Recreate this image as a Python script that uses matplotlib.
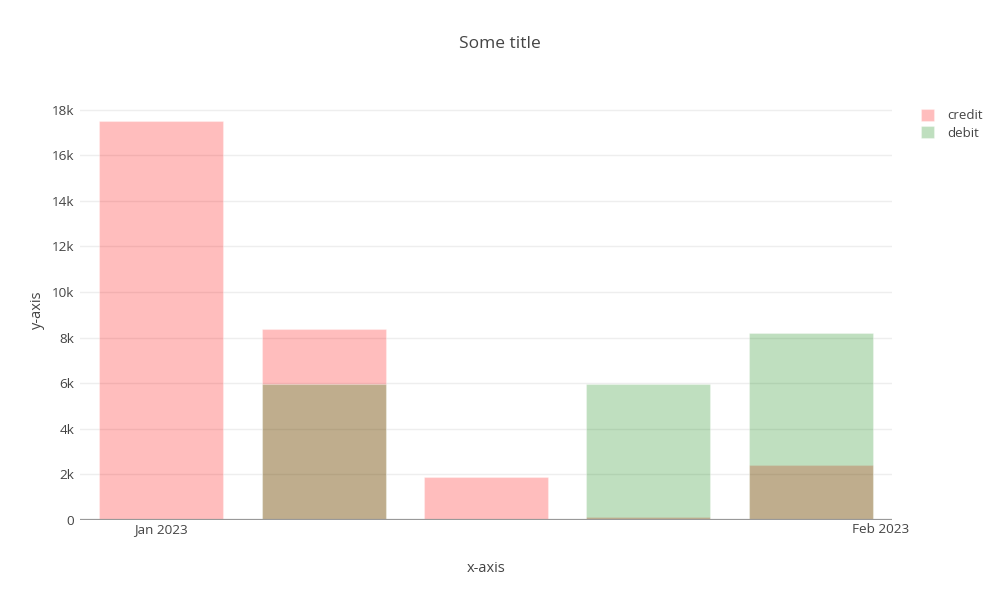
import matplotlib
matplotlib.use("Agg")
import matplotlib.pyplot as plt
import matplotlib.dates as mdates
import numpy as np
import pandas as pd

plt.rcParams['font.family'] = ['Open Sans', 'DejaVu Sans']

# weekly totals
weeks  = pd.to_datetime(["2023-01-01", "2023-01-08", "2023-01-15", "2023-01-22", "2023-01-29"])
credit = [17500, 8380, 1890, 130, 2410]
debit  = [0, 5970, 0, 5960, 8210]

TEXT = "#444444"
GRID = "#eeeeee"

fig = plt.figure(figsize=(10, 6), dpi=100)
ax = fig.add_axes([0.08, 0.1333, 0.812, 0.7])

bar_w = 5.35  # days
ax.bar(weeks, credit, width=bar_w, color=(1, 0, 0, 0.26),
       edgecolor=(1, 1, 1, 0.3), linewidth=0.8, label="credit", zorder=2)
ax.bar(weeks, debit, width=bar_w, color=(0, 0.5, 0, 0.25),
       edgecolor=(1, 1, 1, 0.3), linewidth=0.8, label="debit", zorder=3)

ax.set_xlim(weeks[0] - pd.Timedelta(days=3.5), weeks[-1] + pd.Timedelta(days=3.5))
ax.set_ylim(0, 18420)

ax.xaxis.set_major_locator(mdates.MonthLocator())
ax.xaxis.set_major_formatter(mdates.DateFormatter("%b %Y"))
ax.set_yticks(np.arange(0, 18001, 2000))
ax.set_yticklabels(["0"] + [f"{v // 1000}k" for v in range(2000, 18001, 2000)])

ax.grid(axis='y', color=GRID, linewidth=1, zorder=0)
ax.set_axisbelow(True)
for side in ['top', 'right', 'left', 'bottom']:
    ax.spines[side].set_visible(False)
ax.axhline(0, color="#999999", linewidth=1.6, zorder=4)
ax.tick_params(length=0, labelsize=9.7, colors=TEXT)
ax.tick_params(axis='x', pad=2)
ax.tick_params(axis='y', pad=4)

ax.set_xlabel("x-axis", color=TEXT, fontsize=10.5, labelpad=18)
ax.set_ylabel("y-axis", color=TEXT, fontsize=10.5, labelpad=5)
fig.text(0.5, 0.927, "Some title", ha='center', va='center', color=TEXT, fontsize=12.5)

fig.legend(loc='upper left', bbox_to_anchor=(0.909, 0.838), frameon=False,
           fontsize=9.5, labelcolor=TEXT, handlelength=1.0, handleheight=1.0,
           handletextpad=1.0, labelspacing=0.3)

fig.savefig("out.png", dpi=100, facecolor="white")
